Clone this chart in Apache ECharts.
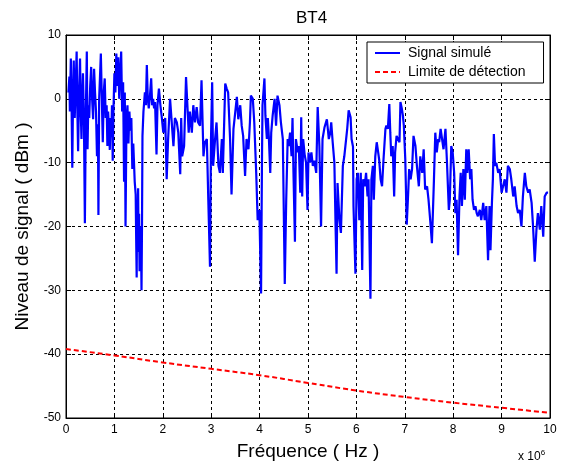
<!DOCTYPE html>
<html>
<head>
<meta charset="utf-8">
<script src="https://cdn.jsdelivr.net/npm/echarts@6/dist/echarts.min.js"></script>
<style>
  html, body { margin: 0; padding: 0; background: #fff; }
  #chart { width: 566px; height: 473px; }
</style>
</head>
<body>
<div id="chart"></div>
<script>
// Frequencies in units of 1e6 Hz, levels in dBm
const signalFreq = [
  0.05, 0.07, 0.08, 0.09, 0.10, 0.115, 0.13, 0.145, 0.16, 0.18, 0.20, 0.22, 0.235, 0.25, 0.27, 0.29,
  0.305, 0.32, 0.335, 0.35, 0.37, 0.39, 0.41, 0.43, 0.445, 0.46, 0.48, 0.50, 0.52, 0.54, 0.56, 0.58,
  0.60, 0.62, 0.64, 0.66, 0.67, 0.685, 0.70, 0.72, 0.74, 0.76, 0.78, 0.80, 0.82, 0.84, 0.855, 0.87,
  0.89, 0.905, 0.92, 0.935, 0.95, 0.965, 0.98, 1.00, 1.02, 1.04, 1.06, 1.08, 1.10, 1.12, 1.14, 1.16,
  1.18, 1.20, 1.215, 1.23, 1.25, 1.27, 1.29, 1.31, 1.33, 1.35, 1.37, 1.39, 1.42, 1.44, 1.45, 1.46,
  1.47, 1.48, 1.49, 1.50, 1.51, 1.52, 1.53, 1.54, 1.55, 1.56, 1.57, 1.58, 1.60, 1.61, 1.63, 1.65,
  1.67, 1.69, 1.71, 1.73, 1.76, 1.78, 1.80, 1.82, 1.84, 1.87, 1.89, 1.92, 1.95, 1.98,
  2.01, 2.05, 2.08, 2.11, 2.15, 2.18, 2.22, 2.25, 2.29, 2.32, 2.36, 2.38, 2.40, 2.44, 2.48, 2.51,
  2.535, 2.56, 2.60, 2.63, 2.665, 2.70, 2.73, 2.77, 2.80, 2.84, 2.87, 2.91, 2.94, 2.975, 2.996, 3.02,
  3.04, 3.08, 3.11, 3.15, 3.18, 3.22, 3.24, 3.29, 3.32, 3.35, 3.39, 3.42, 3.46, 3.49, 3.53, 3.56,
  3.60, 3.63, 3.66, 3.70, 3.73, 3.77, 3.80, 3.82, 3.86, 3.89, 3.93, 3.96, 3.995,
  4.03, 4.05, 4.06, 4.10, 4.12, 4.15, 4.17, 4.19, 4.22, 4.24, 4.27, 4.31, 4.34, 4.37, 4.41, 4.44,
  4.48, 4.50, 4.52, 4.55, 4.58, 4.60, 4.63, 4.66, 4.68, 4.70, 4.73, 4.75, 4.79, 4.81, 4.84, 4.86,
  4.88, 4.90, 4.93, 4.96, 4.99, 5.01, 5.04, 5.07, 5.10, 5.13, 5.17, 5.20, 5.235, 5.27, 5.30, 5.34,
  5.37, 5.39, 5.43, 5.46, 5.48, 5.51, 5.545, 5.57, 5.59, 5.61, 5.65, 5.68, 5.72, 5.75, 5.79, 5.81,
  5.84, 5.88, 5.90, 5.93, 5.94, 5.98,
  6.005, 6.03, 6.06, 6.09, 6.12, 6.14, 6.17, 6.20, 6.23, 6.25, 6.29, 6.31, 6.34, 6.36, 6.39, 6.42,
  6.45, 6.47, 6.50, 6.53, 6.56, 6.60, 6.62, 6.65, 6.68, 6.70, 6.72, 6.75, 6.78, 6.80, 6.83, 6.86,
  6.89, 6.91, 6.94, 6.96, 6.98, 7.01, 7.04, 7.07, 7.09, 7.12, 7.15, 7.18, 7.22, 7.25, 7.29, 7.32,
  7.36, 7.39, 7.42, 7.46, 7.49, 7.53, 7.56, 7.60, 7.63, 7.66, 7.69, 7.71, 7.74, 7.77, 7.80, 7.84,
  7.87, 7.91, 7.93, 7.96, 7.99,
  8.02, 8.045, 8.07, 8.10, 8.13, 8.155, 8.18, 8.21, 8.24, 8.27, 8.29, 8.32, 8.35, 8.375, 8.40, 8.43,
  8.46, 8.485, 8.51, 8.55, 8.58, 8.62, 8.65, 8.685, 8.72, 8.75, 8.77, 8.80, 8.82, 8.84, 8.865, 8.89,
  8.93, 8.96, 9.00, 9.03, 9.065, 9.10, 9.13, 9.17, 9.20, 9.24, 9.27, 9.31, 9.34, 9.375, 9.41, 9.44,
  9.48, 9.51, 9.55, 9.58, 9.62, 9.65, 9.685, 9.72, 9.75, 9.79, 9.82, 9.86, 9.89, 9.93, 9.96
];
const signalLevel = [
  1, 3.5, -2, 2.5, 6.3, -1, -10.8, 0, 6, -3, 2, 7.4, -2, -8.2, 1, 6.3,
  -2, -6.3, 0, 4, -3, -19.5, -2, 7.4, -7.9, -1, -3, 2, 5, 0, -3.2, 4.7,
  1, -2, -9, -4, -18.2, 0, 3, 7.1, 0, -6.8, 1, 3.2, -3, -1, -7.4, -2,
  -5, -8, -3, -6, -1, -9.7, -2, 4, 1, 7.1, 2, 6.5, 0, 4, 7.4, -2,
  2.6, -13, 1, -20, -3, -1, -7, -2, -5, -3, -11, -7, -13, -15, -22, -28,
  -16, -20, -14, -24, -18, -27, -20, -26, -22, -30, -20, -5.8, -2, -1, 1, -1,
  5.3, 0, -1.5, 0, 3.2, -1, 0, -1.5, -0.5, -8.7, -1, 1.6, -1, -3,
  -5.3, -3, -12.6, -6.3, 0, 0.3, -7.4, -3, -3.7, -5.3, -11.8, -3, -9, -7.4, 3.4, 3.2,
  -5.3, -2, -5.3, -1, -3.7, -1.3, -3.7, -4.2, 2.9, -9, -6.8, -6.3, -15.8, -26.3, -6.3, 2.6,
  -10.5, -6.3, -3.7, -10.5, -11.6, -6.3, -11.6, 2.4, 1.6, 1, -6.3, -15, -4.7, -2.6, 0.3, -3.2,
  -1, -4.2, -5.8, -12.1, -6.3, -7.9, -3.7, 0.5, 0, -3.7, -11.6, -19, -17.4,
  -30.5, -8.7, -1, 3.2, -2.6, -6.3, -3, -5.8, -11.6, -5.3, -2.6, 0, -4.2, 0.5, -1, -3.7,
  -6.3, -17.9, -29, -15.8, -6.3, -7.4, -5.3, -9, -3, -11.6, -22.4, -6.3, -8.4, -7.4, -14.7, -2.9,
  -15.3, -6.3, -8.7, -10, -17.4, -8.4, -10, -8.4, -10.5, -9.7, -11.6, -1.3, -7.4, -20, -6.3, -4.5,
  -4.2, -3.2, -6.3, -5.3, -3.7, -6.8, -10, -20, -27.4, -13.2, -19, -21, -10.5, -9, -9.2, -4.7,
  -1.8, -2.9, -6.3, -7.5, -16.8, -27.4,
  -12.6, -11.6, -19, -11.6, -26.8, -12.6, -13.7, -11.6, -15.3, -12.6, -31.3, -12.6, -10.5, -15.8, -9, -6.8,
  -8.4, -9.5, -12.6, -13.7, -9.5, -4.7, -4.2, -4.7, -0.8, -5.3, -9, -7.4, -15.3, -8.4, -5.8, -6.3,
  -6.8, -0.5, -1.6, -2.6, -4.2, -9.5, -19.7, -14.7, -11, -12.6, -11, -5.8, -7.4, -10.5, -13.7, -9,
  -11.6, -7.9, -14.2, -13.7, -15.8, -19.5, -22.6, -13.2, -5.3, -8.4, -6.3, -6.8, -4.7, -4.5, -7.9, -4.7,
  -9.7, -17.4, -15.8, -7.4, -8.4,
  -11.6, -17.9, -15.8, -24.5, -15.3, -11.6, -16.8, -11, -15.8, -7.9, -11.6, -7.9, -12.6, -11, -15.8, -17.4,
  -16.8, -17.9, -18.4, -17.4, -19, -16.3, -19, -16.8, -25.3, -16.8, -23.7, -16.3, -12.6, -5.5, -10.5, -10,
  -11.6, -11, -14.7, -13.7, -12.6, -14.7, -10.5, -11, -12.6, -15.3, -13.7, -16.8, -17.9, -17.4, -20, -15.3,
  -11.6, -13.7, -14.7, -14.2, -16.3, -20, -25.5, -20.5, -17.9, -20.5, -16.8, -21.6, -15.3, -14.7, -14.7
];

const limitFreq = [0, 1, 2, 3, 4, 5, 6, 7, 8, 9, 10];
const limitLevel = [-39.2, -40.2, -41.3, -42.3, -43.3, -44.5, -45.7, -46.7, -47.6, -48.4, -49.2];

const font = '"Liberation Sans", Arial, sans-serif';
const zip = (xs, ys) => xs.map((x, i) => [x, ys[i]]);

const chart = echarts.init(document.getElementById('chart'), null, { renderer: 'canvas' });

const gridDash = { color: '#000', width: 1, type: [3, 3] };
const tickStyle = { color: '#000', width: 1 };

chart.setOption({
  backgroundColor: '#fff',
  animation: false,
  title: {
    text: 'BT4',
    left: 291,
    top: 5,
    textStyle: { fontFamily: font, fontSize: 17, fontWeight: 'normal', color: '#000' }
  },
  legend: {
    left: 367,
    top: 42,
    orient: 'vertical',
    backgroundColor: '#fff',
    borderColor: '#000',
    borderWidth: 1,
    padding: [4, 18, 4, 7],
    itemWidth: 25,
    itemHeight: 14,
    itemGap: 5,
    itemStyle: { opacity: 0 },
    textStyle: { fontFamily: font, fontSize: 14, color: '#000', padding: [0, 0, 0, 3] },
    data: ['Signal simulé', 'Limite de détection']
  },
  grid: { left: 66, right: 16, top: 35, bottom: 55, show: true, borderColor: '#000', borderWidth: 1 },
  xAxis: [{
    type: 'value', min: 0, max: 10, interval: 1,
    name: 'Fréquence ( Hz )', nameLocation: 'middle', nameGap: 24,
    nameTextStyle: { fontFamily: font, fontSize: 19, color: '#000' },
    axisLine: { show: true, onZero: false, lineStyle: { color: '#000' } },
    axisTick: { show: true, inside: true, length: 5, lineStyle: tickStyle },
    axisLabel: { fontFamily: font, fontSize: 12, color: '#000', margin: 6 },
    splitLine: { show: true, lineStyle: gridDash }
  }, {
    type: 'value', min: 0, max: 10, interval: 1, position: 'top',
    axisLine: { show: true, onZero: false, lineStyle: { color: '#000' } },
    axisTick: { show: true, inside: true, length: 5, lineStyle: tickStyle },
    axisLabel: { show: false }, splitLine: { show: false }
  }],
  yAxis: [{
    type: 'value', min: -50, max: 10, interval: 10,
    name: 'Niveau de signal ( dBm )', nameLocation: 'middle', nameGap: 28,
    nameTextStyle: { fontFamily: font, fontSize: 19, color: '#000' },
    axisLine: { show: true, onZero: false, lineStyle: { color: '#000' } },
    axisTick: { show: true, inside: true, length: 5, lineStyle: tickStyle },
    axisLabel: { fontFamily: font, fontSize: 12, color: '#000', margin: 5 },
    splitLine: { show: true, lineStyle: gridDash }
  }, {
    type: 'value', min: -50, max: 10, interval: 10, position: 'right',
    axisLine: { show: true, onZero: false, lineStyle: { color: '#000' } },
    axisTick: { show: true, inside: true, length: 5, lineStyle: tickStyle },
    axisLabel: { show: false }, splitLine: { show: false }
  }],
  graphic: [{
    type: 'text',
    left: 518,
    top: 449,
    style: {
      text: 'x 10{sup|6}',
      fontFamily: font, fontSize: 12, fill: '#000',
      rich: { sup: { fontFamily: font, fontSize: 8, verticalAlign: 'top', padding: [0, 0, 8, 0] } }
    }
  }],
  series: [{
    name: 'Signal simulé',
    type: 'line',
    data: zip(signalFreq, signalLevel),
    showSymbol: false,
    symbol: 'none',
    lineStyle: { color: '#0000ff', width: 2.2 },
    itemStyle: { color: '#0000ff' },
    z: 3
  }, {
    name: 'Limite de détection',
    type: 'line',
    data: zip(limitFreq, limitLevel),
    smooth: true,
    showSymbol: false,
    symbol: 'none',
    lineStyle: { color: '#ff0000', width: 2, type: [5, 3] },
    itemStyle: { color: '#ff0000' },
    z: 3
  }]
});
</script>
</body>
</html>
